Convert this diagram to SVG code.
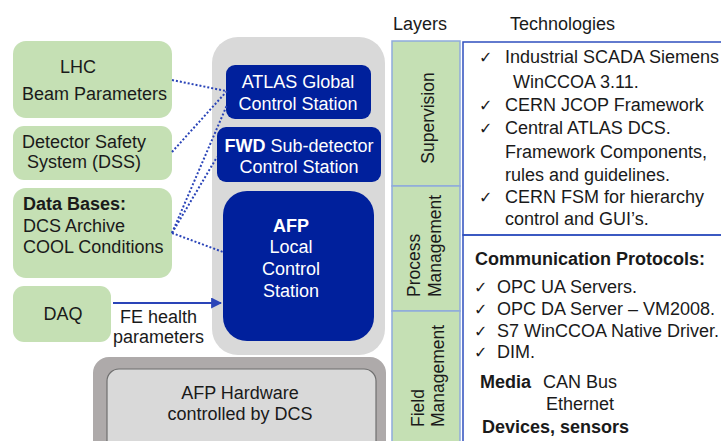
<svg xmlns="http://www.w3.org/2000/svg" width="721" height="441" viewBox="0 0 721 441">
<defs>
<style>
text{font-family:"Liberation Sans",Arial,sans-serif;font-size:18px;fill:#1a1a1a}
.w{fill:#ffffff}
.b{font-weight:bold}
.c{text-anchor:middle}
.ck{font-family:"DejaVu Sans",sans-serif;font-size:16px}
.grn{fill:#c5e0b4}
.blu{fill:#00209c}
.dot{fill:none;stroke:#2a44b8;stroke-width:2;stroke-dasharray:2 2}
</style>
<marker id="ah" viewBox="0 0 10 10" refX="9" refY="5" markerWidth="5" markerHeight="5" orient="auto">
<path d="M0,0 L10,5 L0,10 z" fill="#2a44b8"/>
</marker>
</defs>
<rect width="721" height="441" fill="#ffffff"/>

<g id="lhc">
<rect class="grn" x="13" y="41" width="159" height="77" rx="13"/>
<text x="60" y="73">LHC</text>
<text x="22" y="100">Beam Parameters</text>
</g>
<g id="dss">
<rect class="grn" x="13" y="126" width="159" height="54" rx="11"/>
<text x="22" y="148">Detector Safety</text>
<text x="27" y="168">System (DSS)</text>
</g>
<g id="databases">
<rect class="grn" x="13" y="188" width="159" height="90" rx="13"/>
<text class="b" x="23" y="210">Data Bases:</text>
<text x="23" y="232">DCS Archive</text>
<text x="23" y="253">COOL Conditions</text>
</g>
<g id="daq">
<rect class="grn" x="13" y="286" width="98" height="56" rx="11"/>
<text class="c" x="63" y="320">DAQ</text>
</g>

<g id="panel">
<rect x="212" y="37" width="173" height="318" rx="26" fill="#d9d9d9"/>
</g>
<g id="atlas">
<rect class="blu" x="226" y="65" width="145" height="54" rx="9"/>
<text class="w c" x="298" y="88">ATLAS Global</text>
<text class="w c" x="298" y="110">Control Station</text>
</g>
<g id="fwd">
<rect class="blu" x="217" y="127" width="164" height="55" rx="9"/>
<text class="w c" x="299" y="152"><tspan class="b w">FWD</tspan> Sub-detector</text>
<text class="w c" x="299" y="173">Control Station</text>
</g>
<g id="afp">
<rect class="blu" x="223" y="191" width="151" height="150" rx="24"/>
<text class="w c b" x="291" y="232">AFP</text>
<text class="w c" x="291" y="253">Local</text>
<text class="w c" x="291" y="275">Control</text>
<text class="w c" x="291" y="297">Station</text>
</g>

<g id="hardware">
<rect x="93" y="357" width="293" height="100" rx="16" fill="#aeaaaa"/>
<rect x="107" y="369" width="269" height="90" rx="12" fill="#d9d9d9" stroke="#6f6f6f" stroke-width="1.2"/>
<text class="c" x="240" y="399">AFP Hardware</text>
<text class="c" x="240" y="420">controlled by DCS</text>
</g>

<g id="connectors">
<line class="dot" x1="172" y1="80" x2="226" y2="91"/>
<line class="dot" x1="172" y1="152" x2="227" y2="91"/>
<line class="dot" x1="172" y1="233" x2="227" y2="105"/>
<line class="dot" x1="172" y1="233" x2="217" y2="157"/>
<line class="dot" x1="172" y1="233" x2="223" y2="252"/>
<line x1="113" y1="303" x2="221" y2="303" stroke="#2a44b8" stroke-width="2.2" marker-end="url(#ah)"/>
<text x="120" y="323">FE health</text>
<text x="113" y="343">parameters</text>
</g>

<g id="headers">
<text x="393" y="30">Layers</text>
<text x="510" y="30">Technologies</text>
</g>

<g id="layers">
<rect x="392" y="41" width="68" height="145" fill="#c5e0b4" stroke="#8faadc" stroke-width="1.5"/>
<rect x="392" y="186" width="68" height="125" fill="#c5e0b4" stroke="#8faadc" stroke-width="1.5"/>
<rect x="392" y="311" width="68" height="140" fill="#c5e0b4" stroke="#8faadc" stroke-width="1.5"/>
<text class="c" transform="translate(434,118) rotate(-90)" style="font-size:17.5px">Supervision</text>
<text transform="translate(420,297) rotate(-90)" style="font-size:17.5px">Process</text>
<text transform="translate(441,297) rotate(-90)" style="font-size:17.5px">Management</text>
<text transform="translate(424,427) rotate(-90)" style="font-size:17.5px">Field</text>
<text transform="translate(444,427) rotate(-90)" style="font-size:17.5px">Management</text>
</g>

<g id="tech-supervision">
<rect x="463" y="42" width="262" height="193" fill="none" stroke="#2f4fbf" stroke-width="1.5"/>
<text class="ck" x="479" y="63">✓</text>
<text x="505" y="63">Industrial SCADA Siemens</text>
<text x="513" y="88">WinCCOA 3.11.</text>
<text class="ck" x="479" y="111">✓</text>
<text x="505" y="111">CERN JCOP Framework</text>
<text class="ck" x="479" y="134">✓</text>
<text x="505" y="134">Central ATLAS DCS.</text>
<text x="505" y="158">Framework Components,</text>
<text x="505" y="181">rules and guidelines.</text>
<text class="ck" x="479" y="203">✓</text>
<text x="505" y="203">CERN FSM for hierarchy</text>
<text x="505" y="225">control and GUI’s.</text>
</g>

<g id="tech-process">
<rect x="463" y="235" width="262" height="215" fill="none" stroke="#2f4fbf" stroke-width="1.5"/>
<text class="b" x="475" y="265">Communication Protocols:</text>
<text class="ck" x="474" y="293">✓</text>
<text x="497" y="293">OPC UA Servers.</text>
<text class="ck" x="474" y="315">✓</text>
<text x="497" y="315">OPC DA Server – VM2008.</text>
<text class="ck" x="474" y="337">✓</text>
<text x="497" y="337">S7 WinCCOA Native Driver.</text>
<text class="ck" x="474" y="358">✓</text>
<text x="497" y="358">DIM.</text>
<text class="b" x="480" y="388">Media</text>
<text x="543" y="388">CAN Bus</text>
<text x="546" y="410">Ethernet</text>
<text class="b" x="482" y="433">Devices, sensors</text>
</g>
</svg>
